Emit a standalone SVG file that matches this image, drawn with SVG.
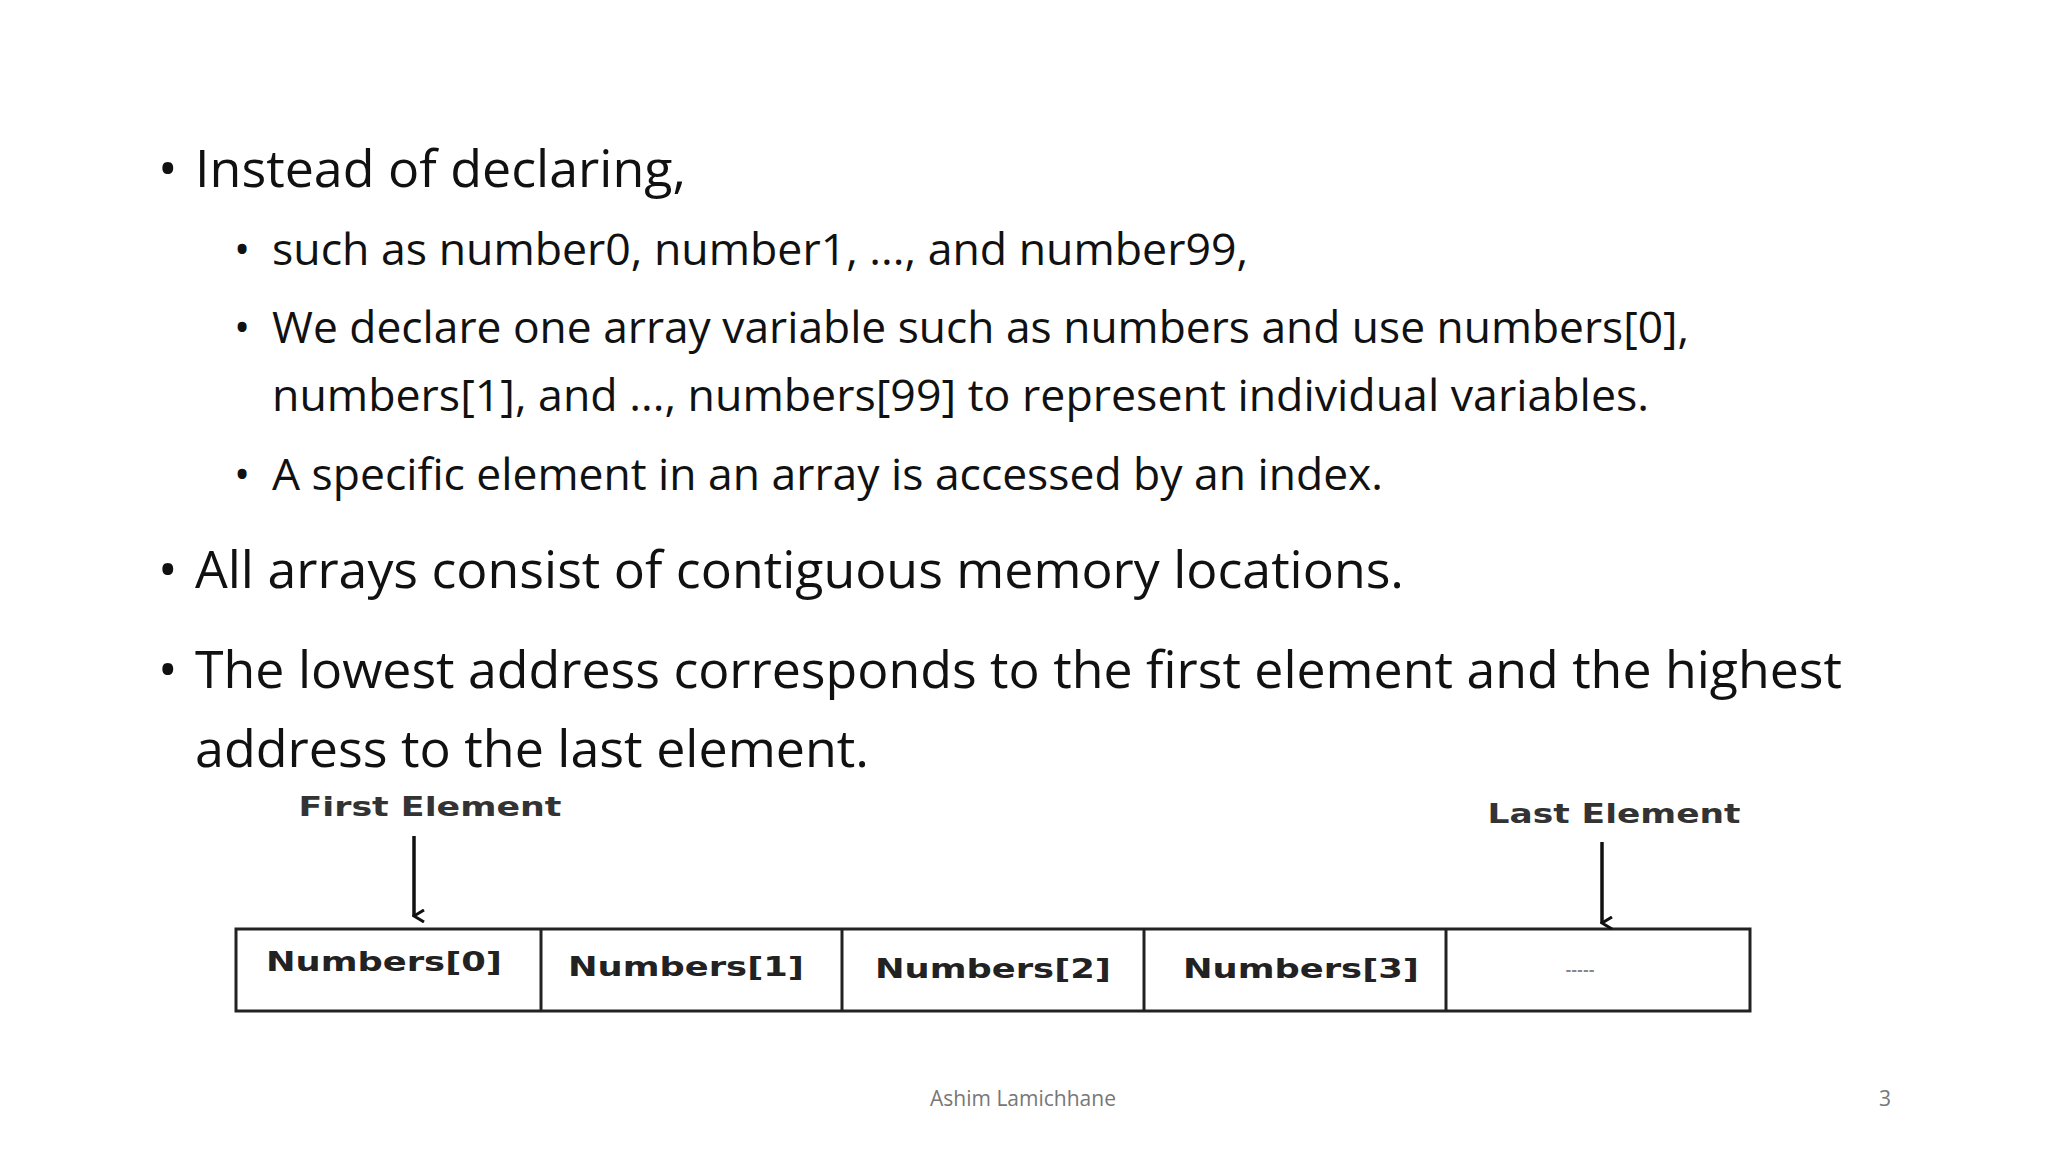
<svg xmlns="http://www.w3.org/2000/svg" width="2048" height="1152" viewBox="0 0 2048 1152">
<defs>
<style>
.t{font-family:"Open Sans","Liberation Sans",sans-serif;fill:#111}
.b1{font-size:52px}
.b2{font-size:43px}
.c{font-family:"DejaVu Sans",sans-serif;font-weight:bold;font-size:27px;fill:#222;text-anchor:middle}
.h{font-family:"DejaVu Sans",sans-serif;font-weight:bold;font-size:26px;fill:#333;text-anchor:middle}
.ln{stroke:#222;stroke-width:3;fill:none}
</style>
<marker id="ah" markerWidth="14" markerHeight="14" refX="7" refY="12" orient="auto" markerUnits="userSpaceOnUse" viewBox="0 0 14 14"><path d="M1,2 L7,12 L13,2" fill="none" stroke="#111" stroke-width="3"/></marker>
</defs>
<rect width="2048" height="1152" fill="#fff"/>
<g id="text">
<text class="t b1" x="158" y="187">•</text>
<text class="t b1" x="195" y="187" textLength="491" lengthAdjust="spacingAndGlyphs">Instead of declaring,</text>
<text class="t b2" x="234" y="265">•</text>
<text class="t b2" x="272" y="265" textLength="976" lengthAdjust="spacingAndGlyphs">such as number0, number1, ..., and number99,</text>
<text class="t b2" x="234" y="343">•</text>
<text class="t b2" x="272" y="343" textLength="1417" lengthAdjust="spacingAndGlyphs">We declare one array variable such as numbers and use numbers[0],</text>
<text class="t b2" x="272" y="411" textLength="1377" lengthAdjust="spacingAndGlyphs">numbers[1], and ..., numbers[99] to represent individual variables.</text>
<text class="t b2" x="234" y="490">•</text>
<text class="t b2" x="272" y="490" textLength="1111" lengthAdjust="spacingAndGlyphs">A specific element in an array is accessed by an index.</text>
<text class="t b1" x="158" y="588">•</text>
<text class="t b1" x="195" y="588" textLength="1209" lengthAdjust="spacingAndGlyphs">All arrays consist of contiguous memory locations.</text>
<text class="t b1" x="158" y="688">•</text>
<text class="t b1" x="195" y="688" textLength="1647" lengthAdjust="spacingAndGlyphs">The lowest address corresponds to the first element and the highest</text>
<text class="t b1" x="195" y="767" textLength="674" lengthAdjust="spacingAndGlyphs">address to the last element.</text>
</g>
<g id="array">
<rect x="236" y="929" width="1514" height="82" fill="#fff" class="ln"/>
<line class="ln" x1="541" y1="929" x2="541" y2="1011"/>
<line class="ln" x1="842" y1="929" x2="842" y2="1011"/>
<line class="ln" x1="1144" y1="929" x2="1144" y2="1011"/>
<line class="ln" x1="1446" y1="929" x2="1446" y2="1011"/>
<text class="c" x="384" y="971" textLength="236" lengthAdjust="spacingAndGlyphs">Numbers[0]</text>
<text class="c" x="686" y="976" textLength="236" lengthAdjust="spacingAndGlyphs">Numbers[1]</text>
<text class="c" x="993" y="978" textLength="236" lengthAdjust="spacingAndGlyphs">Numbers[2]</text>
<text class="c" x="1301" y="978" textLength="236" lengthAdjust="spacingAndGlyphs">Numbers[3]</text>
<text class="c" x="1580" y="975" style="font-size:14px;fill:#888">-----</text>
</g>
<g id="first">
<text class="h" x="430" y="816" textLength="263" lengthAdjust="spacingAndGlyphs">First Element</text>
</g>
<g id="last">
<text class="h" x="1614" y="823" textLength="253" lengthAdjust="spacingAndGlyphs">Last Element</text>
</g>
<g id="connectors">
<line x1="414" y1="836" x2="414" y2="916" stroke="#111" stroke-width="3.5" marker-end="url(#ah)"/>
<line x1="1602" y1="842" x2="1602" y2="923" stroke="#111" stroke-width="3.5" marker-end="url(#ah)"/>
</g>
<g id="footer">
<text x="1023" y="1106" font-family="Open Sans,sans-serif" font-size="21" fill="#777" text-anchor="middle">Ashim Lamichhane</text>
<text x="1885" y="1106" font-family="Open Sans,sans-serif" font-size="21" fill="#777" text-anchor="middle">3</text>
</g>
</svg>
